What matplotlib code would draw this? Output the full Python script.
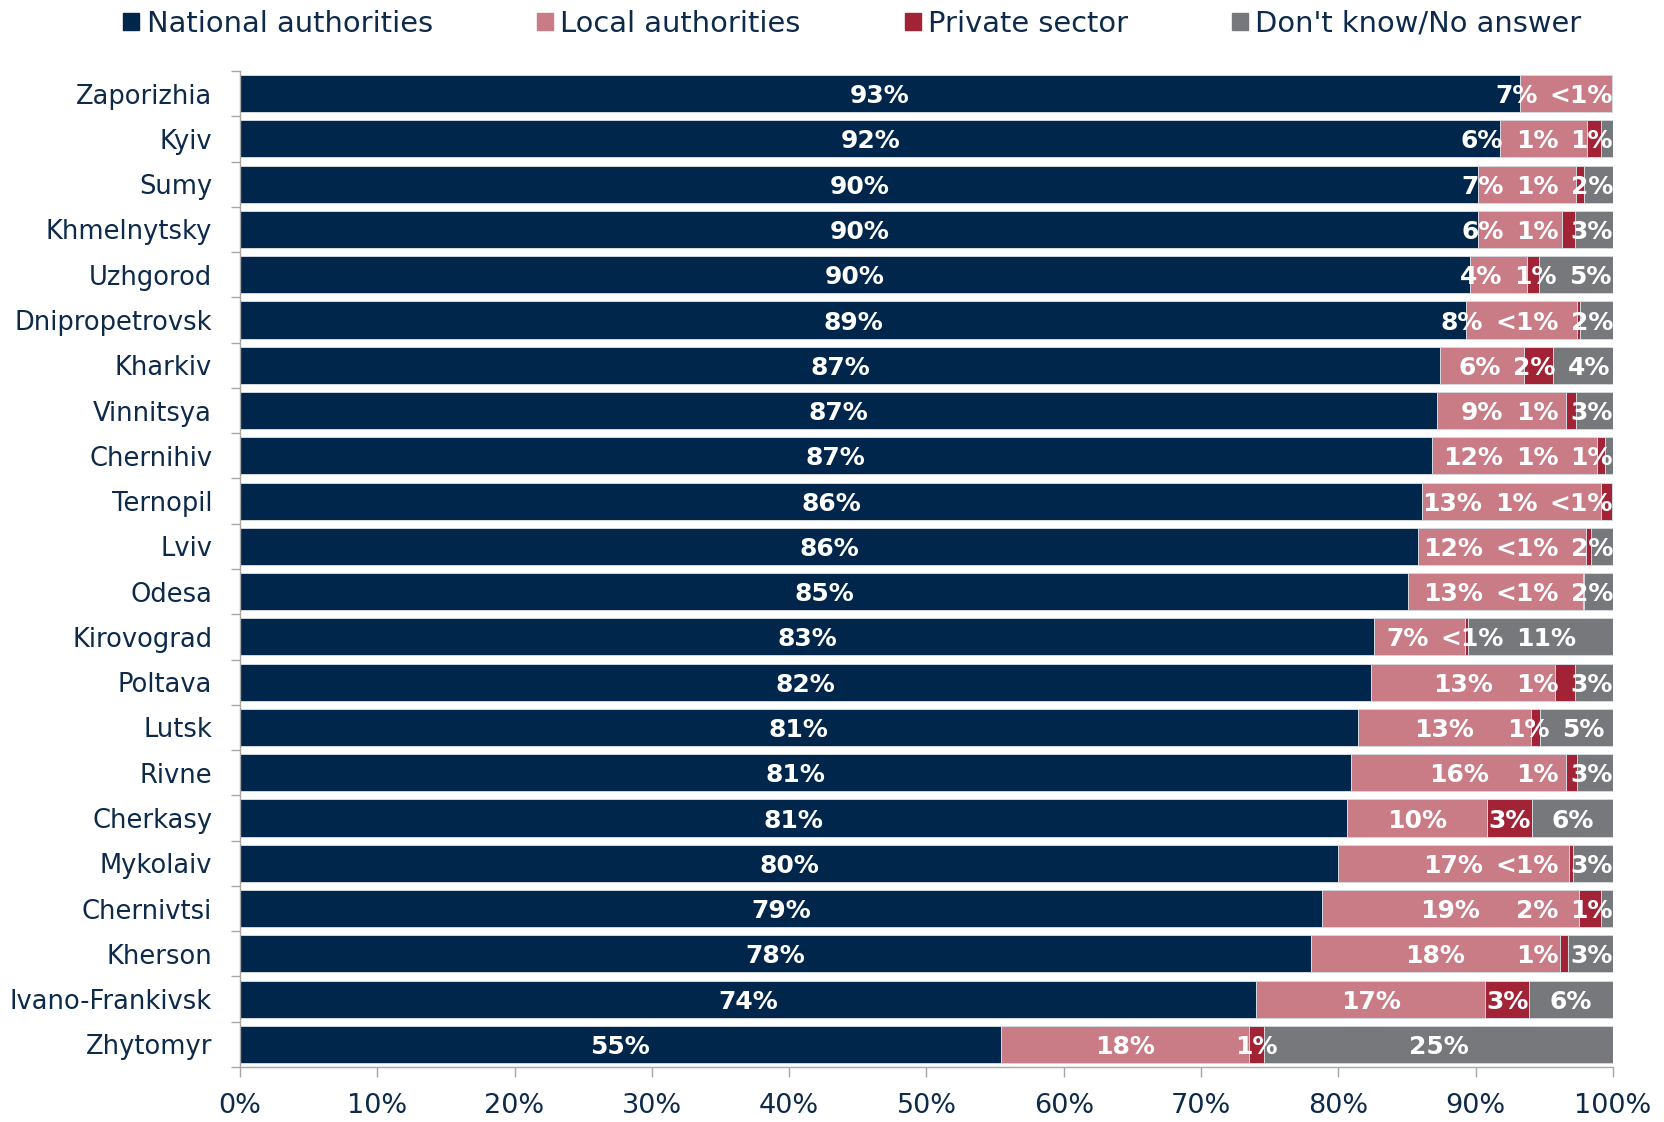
import numpy as np
import matplotlib

matplotlib.use("Agg")
import matplotlib.pyplot as plt
from matplotlib.patches import Patch

plt.rcParams["font.family"] = ["DejaVu Sans"]

REGIONS = ["Zaporizhia", "Kyiv", "Sumy", "Khmelnytsky", "Uzhgorod", "Dnipropetrovsk",
           "Kharkiv", "Vinnitsya", "Chernihiv", "Ternopil", "Lviv", "Odesa",
           "Kirovograd", "Poltava", "Lutsk", "Rivne", "Cherkasy", "Mykolaiv",
           "Chernivtsi", "Kherson", "Ivano-Frankivsk", "Zhytomyr"]
NATIONAL = [93.2, 91.8, 90.2, 90.2, 89.6, 89.3, 87.4, 87.2, 86.8, 86.1, 85.8, 85.1,
            82.6, 82.4, 81.4, 80.9, 80.6, 80.0, 78.8, 78.0, 74.0, 55.4]
LOCAL = [6.7, 6.3, 7.1, 6.1, 4.1, 8.1, 6.1, 9.4, 12.0, 13.0, 12.2, 12.7,
         6.6, 13.4, 12.6, 15.7, 10.2, 16.8, 18.7, 18.1, 16.7, 18.1]
PRIVATE = [0.1, 1.0, 0.6, 0.9, 0.9, 0.2, 2.1, 0.7, 0.6, 0.8, 0.4, 0.1,
           0.2, 1.4, 0.7, 0.8, 3.3, 0.3, 1.6, 0.6, 3.2, 1.1]
DONT_KNOW = [0.0, 0.9, 2.1, 2.8, 5.4, 2.4, 4.4, 2.7, 0.6, 0.1, 1.6, 2.1,
             10.6, 2.8, 5.3, 2.6, 5.9, 2.9, 0.9, 3.3, 6.1, 25.4]
SERIES = ["National authorities", "Local authorities", "Private sector", "Don't know/No answer"]
COLORS = ["#00264b", "#c97c86", "#a12335", "#77787b"]
XTICKS = list(range(0, 101, 10))

NAVY = "#0d2a4a"
GRID = "#a6a6a6"


def pct(v):
    return "<1%" if v < 0.5 else f"{v:.0f}%"


def spread(centers, widths, gap=0.9, right=100.0):
    # push overlapping labels apart, keep the last one inside the bar
    c = list(centers)
    for _ in range(200):
        moved = False
        for i in range(len(c) - 1):
            ov = (c[i] + widths[i] / 2 + gap) - (c[i + 1] - widths[i + 1] / 2)
            if ov > 1e-6:
                c[i] -= ov / 2
                c[i + 1] += ov / 2
                moved = True
        if c and c[-1] + widths[-1] / 2 > right:
            c[-1] = right - widths[-1] / 2
            moved = True
        if not moved:
            break
    return c


fig = plt.figure(figsize=(16.65, 11.22), dpi=100)
ax = fig.add_axes([0.1441, 0.0490, 0.8247, 0.8877])

data = np.array([NATIONAL, LOCAL, PRIVATE, DONT_KNOW])
y = np.arange(len(REGIONS))
left = np.zeros(len(REGIONS))
for vals, name, col in zip(data, SERIES, COLORS):
    ax.barh(y, vals, left=left, height=0.82, color=col, edgecolor="#d3d8de",
            linewidth=0.7, label=name)
    left += vals

ax.set_xlim(0, 100)
ax.set_ylim(len(REGIONS) - 0.5, -0.5)
ax.set_xticks(XTICKS)
ax.set_xticklabels([f"{t}%" for t in XTICKS], fontsize=19.5, color=NAVY)
ax.set_yticks(y)
ax.set_yticklabels(REGIONS, fontsize=18.5, color=NAVY)
ax.set_yticks(np.arange(len(REGIONS) + 1) - 0.5, minor=True)
ax.tick_params(axis="y", which="major", length=0, pad=20)
ax.tick_params(axis="y", which="minor", length=6.5, color=GRID, width=1)
ax.tick_params(axis="x", length=7, color=GRID, width=1, pad=12)
for side in ("top", "right"):
    ax.spines[side].set_visible(False)
for side in ("left", "bottom"):
    ax.spines[side].set_color(GRID)
    ax.spines[side].set_linewidth(1)

lab_kw = dict(color="white", fontsize=18, fontweight="bold",
              va="center_baseline", ha="center")
fig.canvas.draw()
renderer = fig.canvas.get_renderer()
px_per_unit = ax.transData.transform((1, 0))[0] - ax.transData.transform((0, 0))[0]

for i in range(len(REGIONS)):
    row = data[:, i]
    starts = np.concatenate([[0], np.cumsum(row)[:-1]])
    ax.text(starts[0] + row[0] / 2, i, pct(row[0]), **lab_kw)
    texts, centers, widths = [], [], []
    for k in range(1, 4):
        if row[k] <= 0:
            continue
        t = ax.text(starts[k] + row[k] / 2, i, pct(row[k]), **lab_kw)
        texts.append(t)
        centers.append(starts[k] + row[k] / 2)
        widths.append(t.get_window_extent(renderer).width / px_per_unit)
    for t, cx in zip(texts, spread(centers, widths)):
        t.set_x(cx)

handles = [Patch(color=c) for c in COLORS]
fig.legend(handles, SERIES, loc="center", bbox_to_anchor=(0.512, 0.979), ncol=4,
           frameon=False, fontsize=20.8, labelcolor=NAVY, handlelength=0.56,
           handleheight=0.56, handletextpad=0.25, columnspacing=3.6)

fig.savefig("out.png", dpi=100)
